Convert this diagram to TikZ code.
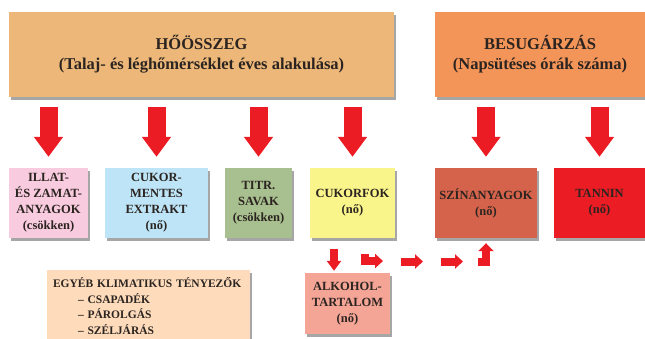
\documentclass[tikz,border=0pt]{standalone}
\usepackage{fontspec}
\setmainfont{Liberation Serif}
\usetikzlibrary{arrows.meta,shadows}
\definecolor{txt}{HTML}{2B2420}
\definecolor{heatc}{HTML}{ECB778}
\definecolor{sunc}{HTML}{F39458}
\definecolor{pinkc}{HTML}{F8CBDE}
\definecolor{bluec}{HTML}{BDE4F7}
\definecolor{greenc}{HTML}{A8BF8F}
\definecolor{yellowc}{HTML}{FAF58B}
\definecolor{colorc}{HTML}{D5634B}
\definecolor{tanninc}{HTML}{EC1C24}
\definecolor{alkc}{HTML}{F5A596}
\definecolor{otherc}{HTML}{FDDBBB}
\definecolor{arrred}{HTML}{EC1C24}
\begin{document}
\begin{tikzpicture}[x=1pt,y=-1pt,
  box/.style={fill=#1, inner sep=0pt, align=center, text=txt,
    font=\bfseries\fontsize{12.5}{16}\selectfont,
    drop shadow={shadow xshift=2.2pt,shadow yshift=-2.5pt,fill=black,opacity=0.35}},
  bigbox/.style={box=#1, font=\bfseries\fontsize{16.5}{20}\selectfont},
  bigarrow/.style={draw=arrred, line width=18pt, -{Triangle[length=20pt,width=28pt]}},
  smallarrow/.style={draw=arrred, line width=8pt, -{Triangle[length=8pt,width=14pt]}},
]
\useasboundingbox (0,0) rectangle (645,338);
\clip (0,0) rectangle (645,338);

% top boxes
\node[bigbox=heatc, minimum width=385pt, minimum height=85pt] (heat) at (201.5,54.5)
  {HŐÖSSZEG\\(Talaj- és léghőmérséklet éves alakulása)};
\node[bigbox=sunc, minimum width=210pt, minimum height=85pt] (sun) at (540,54.5)
  {BESUGÁRZÁS\\(Napsütéses órák száma)};

% second row
\node[box=pinkc, minimum width=79pt, minimum height=70pt] (aroma) at (48.5,203)
  {ILLAT-\\ÉS ZAMAT-\\ANYAGOK\\(csökken)};
\node[box=bluec, minimum width=103pt, minimum height=70pt] (extract) at (156.5,203)
  {CUKOR-\\MENTES\\EXTRAKT\\(nő)};
\node[box=greenc, minimum width=67pt, minimum height=70pt] (acid) at (258.5,203)
  {TITR.\\SAVAK\\(csökken)};
\node[box=yellowc, minimum width=85pt, minimum height=70pt] (sugar) at (352.5,203)
  {CUKORFOK\\(nő)};
\node[box=colorc, minimum width=102pt, minimum height=70pt] (pigment) at (486,203)
  {SZÍNANYAGOK\\(nő)};
\node[box=tanninc, minimum width=91pt, minimum height=70pt] (tannin) at (599.5,203)
  {TANNIN\\(nő)};

% lower boxes
\node[box=alkc, minimum width=85pt, minimum height=61pt] (alcohol) at (347.5,303.5)
  {ALKOHOL-\\TARTALOM\\(nő)};
\node[box=otherc, minimum width=203pt, minimum height=72pt, text width=191pt, align=left,
      font=\bfseries\fontsize{11.5}{15.8}\selectfont] (other) at (148.5,306)
  {EGYÉB KLIMATIKUS TÉNYEZŐK\\\hspace*{25pt}– CSAPADÉK\\\hspace*{25pt}– PÁROLGÁS\\\hspace*{25pt}– SZÉLJÁRÁS};

% big arrows
\foreach \n in {aroma,extract,acid,sugar}
  \draw[bigarrow, shorten <=10pt, shorten >=11pt] (\n.north |- heat.south) -- (\n.north);
\foreach \n in {pigment,tannin}
  \draw[bigarrow, shorten <=10pt, shorten >=11pt] (\n.north |- sun.south) -- (\n.north);

% small arrows
\coordinate (dn) at (334,0);
\draw[smallarrow, -{Triangle[length=10pt,width=14pt]}, shorten <=11pt, shorten >=2pt]
  (dn |- sugar.south) -- (dn |- alcohol.north);

\coordinate (c1) at (364.5,254);
\coordinate (c1b) at (364.5,261);
\coordinate (c1e) at (383,261);
\coordinate (c2s) at (401,261.5);
\coordinate (c2e) at (423,261.5);
\coordinate (c3s) at (441,261.5);
\coordinate (c3e) at (463,261.5);
\coordinate (c4s) at (478,262);
\coordinate (c4b) at (486,262);
\draw[smallarrow] (c1) -- (c1b) -- (c1e);
\draw[smallarrow] (c2s) -- (c2e);
\draw[smallarrow] (c3s) -- (c3e);
\draw[smallarrow, -{Triangle[length=8pt,width=15pt]}, shorten >=5pt] (c4s) -- (c4b) -- (c4b |- pigment.south);
\end{tikzpicture}
\end{document}
